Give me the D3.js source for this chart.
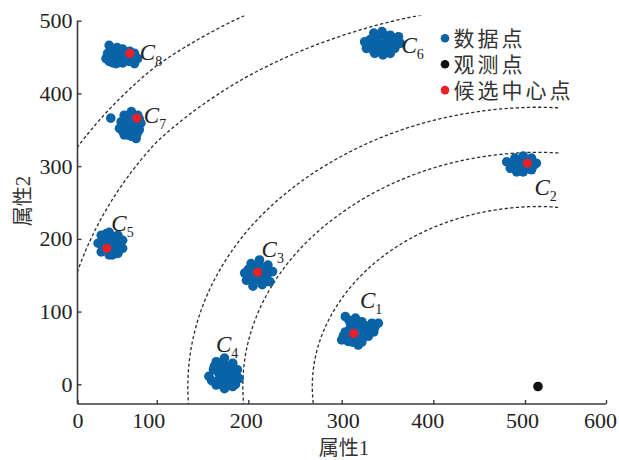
<!DOCTYPE html>
<html>
<head>
<meta charset="utf-8">
<script src="https://cdn.jsdelivr.net/npm/d3@7"></script>
<style>
  html, body { margin: 0; padding: 0; background: #fff; }
  svg { display: block; }
</style>
</head>
<body>
<svg id="chart" width="619" height="460"></svg>
<script>
// ---- tick values ----
const xTickValues = [0, 100, 200, 300, 400, 500, 600];
const yTickValues = [0, 100, 200, 300, 400, 500];

// ---- data points per cluster: [属性1, 属性2] ----
const c1Points = [[304,93],[315,91],[322,86],[333,84],[340,84],[335,72],[329,66],[318,54],[307,59],[300,61],[304,72],[313,70],[324,75],[310,82],
  [320,64],[308,88],[318,86],[326,80],[332,78],[309,76],[318,77],[327,70],[306,66],[314,62],[322,58],[302,67],[336,78],[312,58]];
const c2Points = [[480,306],[489,311],[498,314],[508,311],[514,304],[508,295],[498,292],[491,292],[484,297],[495,302],[502,304],
  [486,304],[492,308],[504,308],[510,300],[502,297],[490,298],[496,296],[504,300]];
const c3Points = [[196,153],[203,166],[212,171],[221,164],[226,155],[223,141],[215,137],[205,135],[198,143],[208,150],[215,150],[218,158],[205,158],
  [202,150],[210,160],[220,150],[214,144],[207,143],[200,158],[220,143],[212,164]];
const c4Points = [[165,31],[174,36],[183,29],[188,20],[190,8],[183,-3],[174,-6],[165,-1],[157,11],[168,15],[179,13],[183,6],[170,24],[162,20],[176,2],
  [172,30],[180,25],[186,15],[163,25],[160,5],[168,6],[172,-1],[180,-1],[186,0],[175,9],[175,18],[185,20]];
const c5Points = [[30,205],[40,209],[51,205],[57,198],[57,187],[51,180],[40,178],[30,182],[26,194],[38,194],[47,194],[44,186],[35,200],
  [32,188],[45,202],[52,192],[50,186],[38,184],[44,178],[36,207]];
const c6Points = [[325,471],[327,462],[335,483],[344,485],[353,480],[362,478],[364,469],[356,464],[353,455],[345,453],[336,455],[338,469],[347,469],[331,474],[340,462],[350,474],
  [332,466],[339,477],[348,479],[356,472],[358,462],[350,461],[342,458],[334,460],[360,474],[328,468]];
const c7Points = [[42,366],[68,375],[59,370],[55,361],[53,352],[59,343],[68,341],[74,338],[78,350],[80,359],[76,370],[65,357],[65,366],[61,350],[70,347],[72,362],
  [58,356],[62,364],[70,355],[75,344],[68,370],[72,352],[57,348],[63,343],[78,365]];
const c8Points = [[40,466],[50,463],[57,461],[38,455],[44,453],[53,455],[61,457],[72,455],[76,448],[40,444],[49,441],[57,442],[65,444],[72,441],[36,448],[63,451],[48,449],[56,450],
  [44,460],[52,459],[60,452],[68,450],[66,458],[45,442],[52,444],[60,447],[42,450],[70,448]];

const clusterIds = [1, 2, 3, 4, 5, 6, 7, 8];
const clusterPoints = [c1Points, c2Points, c3Points, c4Points, c5Points, c6Points, c7Points, c8Points];

// candidate centres (red) and the observation point (black)
const candidateIds = [1, 2, 3, 5, 7, 8];
const candidateX = [313, 503, 210, 37, 75, 66];
const candidateY = [70, 304, 154, 187, 366, 455];
const observation = [516, -3];

// distance contours around the observation point: [rx, ry]
const contourRadii = [[247.5, 247.5], [322, 322], [382, 384], [541, 526], [619, 596]];

const legendLabels = ["数据点", "观测点", "候选中心点"];

// ---- layout ----
const W = 619, H = 460;
const xTickPx = [77.5, 156.7, 248.3, 341.7, 433.3, 525, 606];
const xLabelShift = [0, -8.5, -2.5, 1, -6, -3, -6];
const yMin = -27, yClipTop = 507, xClipRight = 542;
const colors = { data: "#0a62a7", obs: "#111111", cand: "#e8202a", axis: "#3a3a3a", text: "#222" };
const serif = "'Liberation Serif', 'Times New Roman', serif";
const cjk = "'Noto Sans CJK SC', 'Noto Sans', sans-serif";

// label offsets (px) from each cluster's bounding-box centre: [dx, dy]
const labelOffset = { 1: [0, -23], 2: [13, 31], 3: [3, -16], 4: [-8, -21], 5: [1, -13], 6: [19, 9.6], 7: [18, -2], 8: [18, 5.5] };

const x = d3.scaleLinear().domain(xTickValues).range(xTickPx);
const y = d3.scaleLinear().domain([0, 500]).range([384.3, 20.7]);

const svg = d3.select("#chart");
svg.append("rect").attr("width", W).attr("height", H).attr("fill", "#fff");

// clip for contour arcs
svg.append("clipPath").attr("id", "plotClip")
  .append("rect")
  .attr("x", x(0)).attr("y", y(yClipTop))
  .attr("width", x(xClipRight) - x(0))
  .attr("height", y(yMin) - y(yClipTop));

// ---- contour arcs ----
const arcLine = d3.line().x(d => x(d[0])).y(d => y(d[1]));
const arcs = svg.append("g").attr("clip-path", "url(#plotClip)");
contourRadii.forEach(([rx, ry]) => {
  const pts = d3.range(0, 721).map(i => {
    const t = -0.1 + (Math.PI + 0.2) * i / 720;
    return [observation[0] + rx * Math.cos(t), observation[1] + ry * Math.sin(t)];
  });
  arcs.append("path")
    .attr("d", arcLine(pts))
    .attr("fill", "none")
    .attr("stroke", "#2a2a2a")
    .attr("stroke-width", 1.3)
    .attr("stroke-dasharray", "3.2,2.4");
});

// ---- axes ----
const xAxis = d3.axisBottom(x).tickValues(xTickValues).tickSize(-4).tickSizeOuter(0).tickPadding(8.5);
const yAxis = d3.axisLeft(y).tickValues(yTickValues).tickSize(-4).tickSizeOuter(0).tickPadding(5);

const gx = svg.append("g").attr("transform", `translate(0,${y(yMin)})`).call(xAxis);
const gy = svg.append("g").attr("transform", `translate(${x(0)},0)`).call(yAxis);
[gx, gy].forEach(g => {
  g.select(".domain").remove();
  g.selectAll(".tick line").attr("stroke", colors.axis).attr("stroke-width", 1.4);
  g.selectAll(".tick text").attr("fill", colors.text)
    .style("font-family", serif).style("font-size", "22px");
});
gx.selectAll(".tick text").attr("dx", (d, i) => xLabelShift[i]);

svg.append("line")
  .attr("x1", x(0)).attr("x2", x(600)).attr("y1", y(yMin)).attr("y2", y(yMin))
  .attr("stroke", colors.axis).attr("stroke-width", 1.6);
svg.append("line")
  .attr("x1", x(0)).attr("x2", x(0)).attr("y1", y(yMin)).attr("y2", y(500))
  .attr("stroke", colors.axis).attr("stroke-width", 1.6);

// axis titles
const xt = svg.append("text").attr("x", 344).attr("y", 455).attr("text-anchor", "middle")
  .attr("fill", "#333").style("font-size", "20px");
xt.append("tspan").style("font-family", cjk).text("属性");
xt.append("tspan").style("font-family", serif).style("font-size", "21px").text("1");

const yt = svg.append("text").attr("transform", "translate(30,201) rotate(-90)").attr("text-anchor", "middle")
  .attr("fill", "#333").style("font-size", "20px");
yt.append("tspan").style("font-family", cjk).text("属性");
yt.append("tspan").style("font-family", serif).style("font-size", "21px").text("2");

// ---- data points ----
const gPts = svg.append("g");
clusterPoints.forEach(pts => {
  gPts.selectAll(null).data(pts).enter().append("circle")
    .attr("cx", d => x(d[0])).attr("cy", d => y(d[1])).attr("r", 4.8)
    .attr("fill", colors.data);
});

// candidate centres
svg.append("g").selectAll("circle").data(candidateIds).enter().append("circle")
  .attr("cx", (d, i) => x(candidateX[i])).attr("cy", (d, i) => y(candidateY[i])).attr("r", 4.6)
  .attr("fill", colors.cand);

// observation point
svg.append("circle").attr("cx", x(observation[0])).attr("cy", y(observation[1])).attr("r", 4.8)
  .attr("fill", colors.obs);

// ---- cluster labels C_k ----
clusterIds.forEach((id, i) => {
  const pts = clusterPoints[i];
  const [x0, x1] = d3.extent(pts, d => x(d[0]));
  const [y0, y1] = d3.extent(pts, d => y(d[1]));
  const cx = (x0 + x1) / 2, cy = (y0 + y1) / 2;
  const t = svg.append("text")
    .attr("x", cx + labelOffset[id][0]).attr("y", cy + labelOffset[id][1])
    .attr("fill", colors.text).style("font-family", serif);
  t.append("tspan").style("font-style", "italic").style("font-size", "23px").text("C");
  t.append("tspan").attr("dy", 6).style("font-size", "14px").text(id);
});

// ---- legend ----
const legendColors = [colors.data, colors.obs, colors.cand];
const lg = svg.append("g").attr("transform", "translate(445,38.3)");
legendLabels.forEach((lab, i) => {
  const row = lg.append("g").attr("transform", `translate(0,${i * 25.9})`);
  row.append("circle").attr("r", 4.3).attr("fill", legendColors[i]);
  row.append("text").attr("x", 8.5).attr("y", 8)
    .attr("fill", "#333").style("font-family", cjk).style("font-size", "21px")
    .style("letter-spacing", "3px").text(lab);
});
</script>
</body>
</html>
